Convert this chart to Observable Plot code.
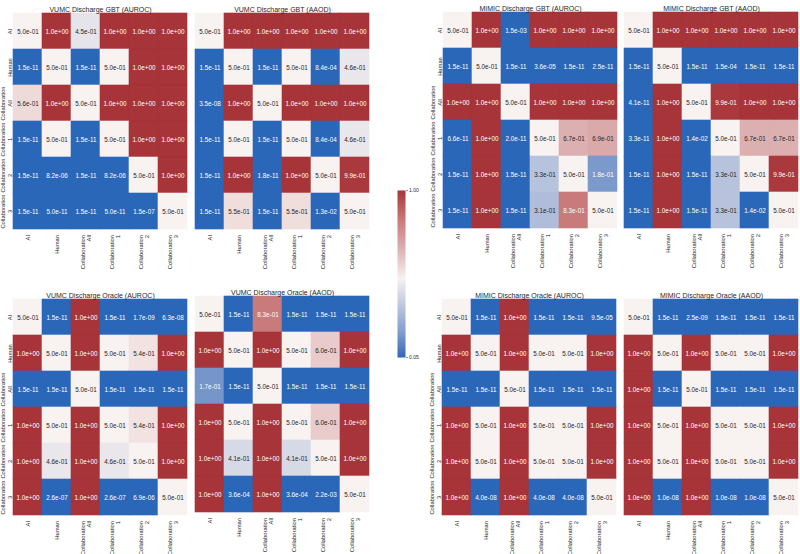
<!DOCTYPE html>
<html><head><meta charset="utf-8">
<script src="https://cdn.jsdelivr.net/npm/d3@7"></script>
<script src="https://cdn.jsdelivr.net/npm/@observablehq/plot@0.6"></script>
<style>
html,body{margin:0;padding:0;background:#fff;}
#wrap{position:relative;width:800px;height:554px;overflow:hidden;font-family:"Liberation Sans",Arial,sans-serif;}
#wrap > div{position:absolute;}
#wrap svg{overflow:visible;}
</style></head><body><div id="wrap"></div>
<script>
// Groups (row / column labels)
const groups = ["AI", "Human", "Collaboration\nAll", "Collaboration\n1", "Collaboration\n2", "Collaboration\n3"];

// Panel titles
const titleVumcGbtAuroc = "VUMC Discharge GBT (AUROC)";
const titleVumcGbtAaod = "VUMC Discharge GBT (AAOD)";
const titleMimicGbtAuroc = "MIMIC Discharge GBT (AUROC)";
const titleMimicGbtAaod = "MIMIC Discharge GBT (AAOD)";
const titleVumcOracleAuroc = "VUMC Discharge Oracle (AUROC)";
const titleVumcOracleAaod = "VUMC Discharge Oracle (AAOD)";
const titleMimicOracleAuroc = "MIMIC Discharge Oracle (AUROC)";
const titleMimicOracleAaod = "MIMIC Discharge Oracle (AAOD)";

// p-value matrices (rows = groups, cols = groups)
const vumcGbtAuroc = [
  [5.0e-01, 1.0e+00, 4.5e-01, 1.0e+00, 1.0e+00, 1.0e+00],
  [1.5e-11, 5.0e-01, 1.5e-11, 5.0e-01, 1.0e+00, 1.0e+00],
  [5.6e-01, 1.0e+00, 5.0e-01, 1.0e+00, 1.0e+00, 1.0e+00],
  [1.5e-11, 5.0e-01, 1.5e-11, 5.0e-01, 1.0e+00, 1.0e+00],
  [1.5e-11, 8.2e-06, 1.5e-11, 8.2e-06, 5.0e-01, 1.0e+00],
  [1.5e-11, 5.0e-11, 1.5e-11, 5.0e-11, 1.5e-07, 5.0e-01]
];
const vumcGbtAaod = [
  [5.0e-01, 1.0e+00, 1.0e+00, 1.0e+00, 1.0e+00, 1.0e+00],
  [1.5e-11, 5.0e-01, 1.5e-11, 5.0e-01, 8.4e-04, 4.6e-01],
  [3.5e-08, 1.0e+00, 5.0e-01, 1.0e+00, 1.0e+00, 1.0e+00],
  [1.5e-11, 5.0e-01, 1.5e-11, 5.0e-01, 8.4e-04, 4.6e-01],
  [1.5e-11, 1.0e+00, 1.8e-11, 1.0e+00, 5.0e-01, 9.9e-01],
  [1.5e-11, 5.5e-01, 1.5e-11, 5.5e-01, 1.3e-02, 5.0e-01]
];
const mimicGbtAuroc = [
  [5.0e-01, 1.0e+00, 1.5e-03, 1.0e+00, 1.0e+00, 1.0e+00],
  [1.5e-11, 5.0e-01, 1.5e-11, 3.6e-05, 1.5e-11, 2.5e-11],
  [1.0e+00, 1.0e+00, 5.0e-01, 1.0e+00, 1.0e+00, 1.0e+00],
  [6.6e-11, 1.0e+00, 2.0e-11, 5.0e-01, 6.7e-01, 6.9e-01],
  [1.5e-11, 1.0e+00, 1.5e-11, 3.3e-01, 5.0e-01, 1.8e-01],
  [1.5e-11, 1.0e+00, 1.5e-11, 3.1e-01, 8.3e-01, 5.0e-01]
];
const mimicGbtAaod = [
  [5.0e-01, 1.0e+00, 1.0e+00, 1.0e+00, 1.0e+00, 1.0e+00],
  [1.5e-11, 5.0e-01, 1.5e-11, 1.5e-04, 1.5e-11, 1.5e-11],
  [4.1e-11, 1.0e+00, 5.0e-01, 9.9e-01, 1.0e+00, 1.0e+00],
  [3.3e-11, 1.0e+00, 1.4e-02, 5.0e-01, 6.7e-01, 6.7e-01],
  [1.5e-11, 1.0e+00, 1.5e-11, 3.3e-01, 5.0e-01, 9.9e-01],
  [1.5e-11, 1.0e+00, 1.5e-11, 3.3e-01, 1.4e-02, 5.0e-01]
];
const vumcOracleAuroc = [
  [5.0e-01, 1.5e-11, 1.0e+00, 1.5e-11, 1.7e-09, 6.3e-08],
  [1.0e+00, 5.0e-01, 1.0e+00, 5.0e-01, 5.4e-01, 1.0e+00],
  [1.5e-11, 1.5e-11, 5.0e-01, 1.5e-11, 1.5e-11, 1.5e-11],
  [1.0e+00, 5.0e-01, 1.0e+00, 5.0e-01, 5.4e-01, 1.0e+00],
  [1.0e+00, 4.6e-01, 1.0e+00, 4.6e-01, 5.0e-01, 1.0e+00],
  [1.0e+00, 2.6e-07, 1.0e+00, 2.6e-07, 6.9e-06, 5.0e-01]
];
const vumcOracleAaod = [
  [5.0e-01, 1.5e-11, 8.3e-01, 1.5e-11, 1.5e-11, 1.5e-11],
  [1.0e+00, 5.0e-01, 1.0e+00, 5.0e-01, 6.0e-01, 1.0e+00],
  [1.7e-01, 1.5e-11, 5.0e-01, 1.5e-11, 1.5e-11, 1.5e-11],
  [1.0e+00, 5.0e-01, 1.0e+00, 5.0e-01, 6.0e-01, 1.0e+00],
  [1.0e+00, 4.1e-01, 1.0e+00, 4.1e-01, 5.0e-01, 1.0e+00],
  [1.0e+00, 3.6e-04, 1.0e+00, 3.6e-04, 2.2e-03, 5.0e-01]
];
const mimicOracleAuroc = [
  [5.0e-01, 1.5e-11, 1.0e+00, 1.5e-11, 1.5e-11, 9.5e-05],
  [1.0e+00, 5.0e-01, 1.0e+00, 5.0e-01, 5.0e-01, 1.0e+00],
  [1.5e-11, 1.5e-11, 5.0e-01, 1.5e-11, 1.5e-11, 1.5e-11],
  [1.0e+00, 5.0e-01, 1.0e+00, 5.0e-01, 5.0e-01, 1.0e+00],
  [1.0e+00, 5.0e-01, 1.0e+00, 5.0e-01, 5.0e-01, 1.0e+00],
  [1.0e+00, 4.0e-08, 1.0e+00, 4.0e-08, 4.0e-08, 5.0e-01]
];
const mimicOracleAaod = [
  [5.0e-01, 1.5e-11, 2.5e-09, 1.5e-11, 1.5e-11, 1.5e-11],
  [1.0e+00, 5.0e-01, 1.0e+00, 5.0e-01, 5.0e-01, 1.0e+00],
  [1.0e+00, 1.5e-11, 5.0e-01, 1.5e-11, 1.5e-11, 1.5e-11],
  [1.0e+00, 5.0e-01, 1.0e+00, 5.0e-01, 5.0e-01, 1.0e+00],
  [1.0e+00, 5.0e-01, 1.0e+00, 5.0e-01, 5.0e-01, 1.0e+00],
  [1.0e+00, 1.0e-08, 1.0e+00, 1.0e-08, 1.0e-08, 5.0e-01]
];

// Colorbar tick values
const colorbarTicks = [0.05, 1.00];

// ---- styling ----
const FONT = '"Liberation Sans", Arial, sans-serif';
const INK = "#262626";
const colorOpts = {
  type: "linear",
  domain: [0.05, 0.18, 0.33, 0.5, 0.67, 0.83, 1],
  range: ["#2b67b9", "#7b9acb", "#b7c3dc", "#f8f2f1", "#dcb0b0", "#c97b7b", "#a73439"],
  interpolate: "lab",
  clamp: true
};
const colorScale = d3.scaleLinear().domain(colorOpts.domain).range(colorOpts.range).interpolate(d3.interpolateLab).clamp(true);

function fmt(v) {
  const s = v.toExponential(1);
  const [m, e] = s.split("e");
  return `${m}e${e[0]}${e.slice(1).padStart(2, "0")}`;
}
function lum(c) {
  const rgb = d3.rgb(c);
  const f = (u) => { u /= 255; return u <= 0.03928 ? u / 12.92 : Math.pow((u + 0.055) / 1.055, 2.4); };
  return 0.2126 * f(rgb.r) + 0.7152 * f(rgb.g) + 0.0722 * f(rgb.b);
}
function textColor(v) { return lum(colorScale(v)) > 0.408 ? INK : "#ffffff"; }

const wrap = document.getElementById("wrap");

function panel(title, matrix, showY, x0, y0, W = 174, H = 216) {
  const mL = 18, mT = 14, mR = 2, mB = 56;
  const data = [];
  matrix.forEach((row, i) => row.forEach((v, j) => data.push({row: groups[i], col: groups[j], value: v})));
  const p = Plot.plot({
    width: mL + W + mR, height: mT + H + mB,
    marginLeft: mL, marginTop: mT, marginRight: mR, marginBottom: mB,
    style: {fontFamily: FONT, background: "transparent", overflow: "visible"},
    x: {domain: groups, padding: 0, axis: null},
    y: {domain: groups, padding: 0, axis: null},
    color: colorOpts,
    marks: [
      Plot.cell(data, {x: "col", y: "row", fill: "value", stroke: "value", strokeWidth: 0.6, inset: 0}),
      Plot.text(data, {x: "col", y: "row", text: d => fmt(d.value), fill: d => textColor(d.value), fontSize: 6.3}),
      Plot.text(groups, {x: d => d, frameAnchor: "bottom", dy: 5.5, rotate: -90, textAnchor: "end", lineAnchor: "middle", fontSize: 5.8, fill: INK, lineHeight: 1.15}),
      showY ? Plot.text(groups, {y: d => d, frameAnchor: "left", dx: -2, rotate: -90, textAnchor: "middle", lineAnchor: "bottom", fontSize: 5.8, fill: INK, lineHeight: 1.15}) : null,
      Plot.text([title], {frameAnchor: "top", dy: -6, fontSize: 7, fill: INK})
    ]
  });
  const div = document.createElement("div");
  div.style.left = (x0 - mL) + "px";
  div.style.top = (y0 - mT) + "px";
  div.appendChild(p);
  wrap.appendChild(div);
}

panel(titleVumcGbtAuroc, vumcGbtAuroc, true, 12.7, 13);
panel(titleVumcGbtAaod, vumcGbtAaod, false, 194.5, 13);
panel(titleMimicGbtAuroc, mimicGbtAuroc, true, 442.5, 12);
panel(titleMimicGbtAaod, mimicGbtAaod, false, 624, 12);
panel(titleVumcOracleAuroc, vumcOracleAuroc, true, 12.5, 298.5);
panel(titleVumcOracleAaod, vumcOracleAaod, false, 194.5, 295.5);
panel(titleMimicOracleAuroc, mimicOracleAuroc, true, 442, 298.5);
panel(titleMimicOracleAaod, mimicOracleAaod, false, 624, 298.5);

// colorbar
{
  const mL = 2, mR = 20, mT = 5, mB = 5, W = 8, H = 167;
  const cb = Plot.plot({
    width: mL + W + mR, height: mT + H + mB,
    marginLeft: mL, marginRight: mR, marginTop: mT, marginBottom: mB,
    style: {fontFamily: FONT, background: "transparent", overflow: "visible"},
    x: {domain: [0, 1], axis: null},
    y: {domain: [0.05, 1], axis: null},
    color: colorOpts,
    marks: [
      Plot.raster({x1: 0, x2: 1, y1: 0.05, y2: 1, width: 1, height: 300, fill: (x, y) => y, imageRendering: "auto"}),
      Plot.axisY({anchor: "right", ticks: colorbarTicks, tickFormat: d3.format(".2f"), tickSize: 2, tickPadding: 1.5, fontSize: 5, fill: INK, stroke: INK, strokeWidth: 0.5, label: null})
    ]
  });
  const div = document.createElement("div");
  div.style.left = (397 - mL) + "px";
  div.style.top = (190 - mT) + "px";
  div.appendChild(cb);
  wrap.appendChild(div);
}
</script>
</body></html>
